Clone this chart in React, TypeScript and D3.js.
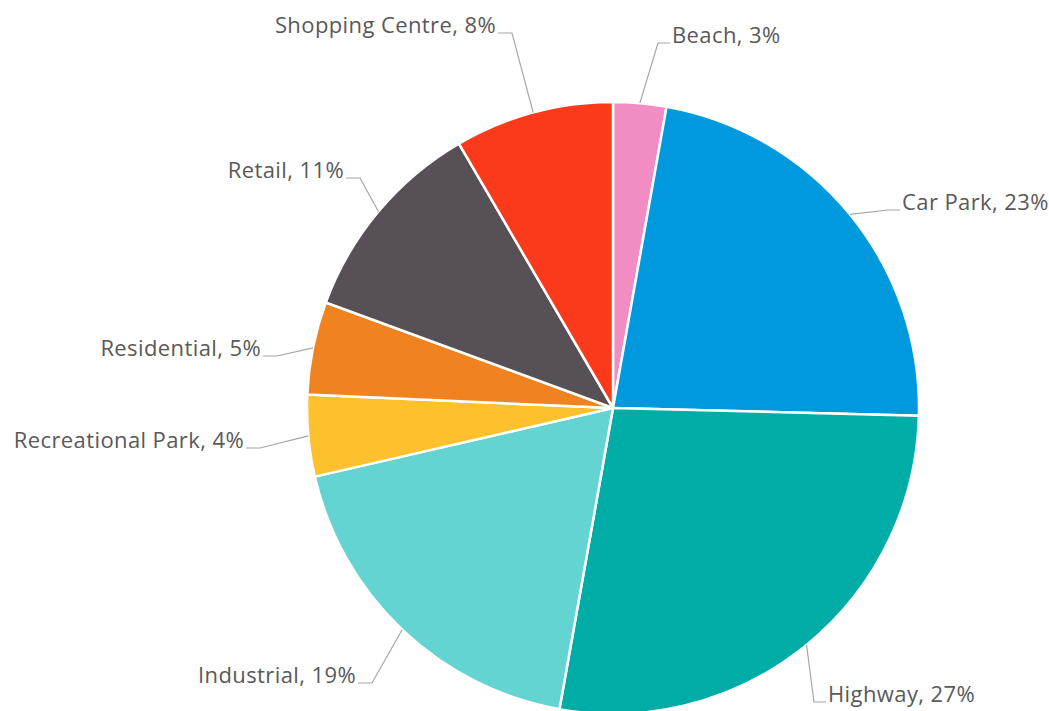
import React from "react";
import * as d3 from "d3";

const categories = ["Beach", "Car Park", "Highway", "Industrial", "Recreational Park", "Residential", "Retail", "Shopping Centre"];
const values = [2.8, 22.6, 27.4, 18.6, 4.3, 4.9, 11.0, 8.4];
const colors = ["#F28DC4", "#0099DE", "#00ADA6", "#63D4D1", "#FDC12E", "#F0831F", "#575157", "#FA3A1B"];

// layout: leader elbow points and text side
const elbows: [number, number][] = [
  [658, 43], [888, 210], [814, 702], [372, 683], [260, 448], [277, 356], [360, 178], [512, 33],
];
const sides = ["right", "right", "right", "left", "left", "left", "left", "left"];

const W = 1049, H = 711;
const cx = 613, cy = 408, R = 306;

export default function App() {
  const total = d3.sum(values);
  const pie = d3.pie<number>().sort(null).startAngle(0).endAngle(2 * Math.PI)(values);
  const arc = d3.arc<d3.PieArcDatum<number>>().innerRadius(0).outerRadius(R);
  return (
    <svg width={W} height={H} style={{ position: "absolute", left: 0, top: 0, background: "#fff" }}>
      <g transform={`translate(${cx},${cy})`}>
        {pie.map((d, i) => (
          <path key={i} d={arc(d) || ""} fill={colors[i]} stroke="#fff" strokeWidth={2.5} strokeLinejoin="round" />
        ))}
      </g>
      {pie.map((d, i) => {
        const a = (d.startAngle + d.endAngle) / 2;
        const sx = cx + R * Math.sin(a), sy = cy - R * Math.cos(a);
        const [ex, ey] = elbows[i];
        const right = sides[i] === "right";
        const hx = right ? ex + 12 : ex - 14;
        const tx = right ? hx + 2 : hx - 2;
        const pct = Math.round((values[i] / total) * 100);
        return (
          <g key={i}>
            <polyline points={`${sx},${sy} ${ex},${ey} ${hx},${ey}`} fill="none" stroke="#A6A6A6" strokeWidth={1.2} />
            <text x={tx} y={ey} textAnchor={right ? "start" : "end"} fontFamily="'Open Sans', sans-serif" fontSize={22} letterSpacing={0.4} fill="#595959">
              {`${categories[i]}, ${pct}%`}
            </text>
          </g>
        );
      })}
    </svg>
  );
}
